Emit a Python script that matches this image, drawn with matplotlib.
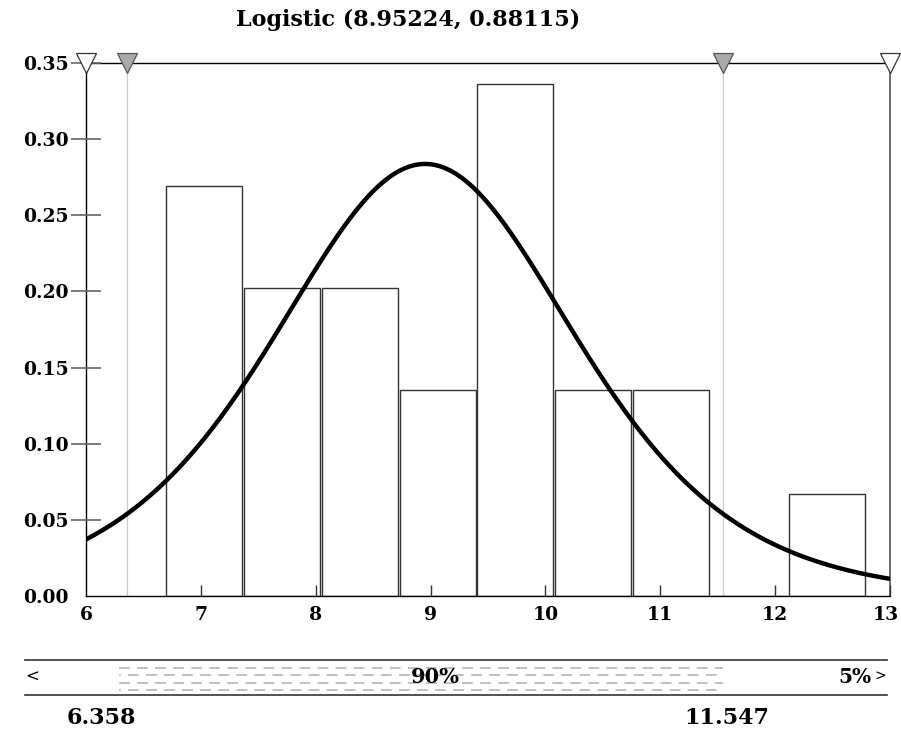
import numpy as np
import matplotlib.pyplot as plt
import matplotlib.transforms as mtransforms
from matplotlib.lines import Line2D

# fitted distribution
loc = 8.95224
scale = 0.88115
lower_pct, upper_pct = 5, 5
lower_val = 6.358
upper_val = 11.547

# histogram (density)
bin_edges = [6.688, 7.366, 8.044, 8.722, 9.400, 10.078, 10.756, 11.434, 12.112, 12.790]
densities = [0.269, 0.202, 0.202, 0.135, 0.336, 0.135, 0.135, 0.0, 0.067]

x_ticks = [6, 7, 8, 9, 10, 11, 12, 13]
y_ticks = [0.00, 0.05, 0.10, 0.15, 0.20, 0.25, 0.30, 0.35]

serif = ['DejaVu Serif']

fig = plt.figure(figsize=(9.01, 7.31), dpi=100)
ax = fig.add_axes([86 / 901, 1 - 596 / 731, 804 / 901, 533 / 731])
ax.set_axisbelow(False)

# bars
edges = np.array(bin_edges)
lefts = edges[:-1]
widths = np.diff(edges)
gap = 0.016
ax.bar(lefts + gap / 2, densities, width=widths - gap, align='edge',
       facecolor='white', edgecolor='#333333', linewidth=1.0, zorder=2)

# fitted logistic pdf
xs = np.linspace(6, 13, 400)
z = np.exp(-(xs - loc) / scale)
pdf = z / (scale * (1 + z) ** 2)
ax.plot(xs, pdf, color='black', linewidth=3.2, zorder=4)

# percentile lines and markers
for v in (lower_val, upper_val):
    ax.axvline(v, color='#cccccc', linewidth=1.0, zorder=1)
ax.plot([6, 13], [0.35, 0.35], linestyle='none', marker='v', markersize=14,
        markerfacecolor='white', markeredgecolor='#333333', markeredgewidth=0.9,
        clip_on=False, zorder=6)
ax.plot([lower_val, upper_val], [0.35, 0.35], linestyle='none', marker='v', markersize=14,
        markerfacecolor='#aaaaaa', markeredgecolor='#555555', markeredgewidth=0.9,
        clip_on=False, zorder=6)

ax.set_xlim(6, 13)
ax.set_ylim(0, 0.35)
ax.set_xticks(x_ticks)
ax.set_yticks(y_ticks)
ax.set_xticklabels([str(t) for t in x_ticks], fontfamily=serif, fontweight='bold', fontsize=13.5)
ax.set_yticklabels([f'{t:.2f}' for t in y_ticks], fontfamily=serif, fontweight='bold', fontsize=13.5)
ax.tick_params(axis='x', direction='in', length=8, width=1, color='#333333', pad=7)
ax.tick_params(axis='y', direction='inout', length=21, width=1.2, color='#666666', pad=2)
ax.xaxis.get_major_ticks()[0].tick1line.set_visible(False)
ax.yaxis.get_major_ticks()[0].tick1line.set_visible(False)
# keep the last x label inside the canvas
last = ax.get_xticklabels()[-1]
last.set_transform(last.get_transform() + mtransforms.ScaledTranslation(-4 / 100, 0, fig.dpi_scale_trans))

for side in ('left', 'top', 'bottom'):
    ax.spines[side].set_color('black')
    ax.spines[side].set_linewidth(1.0)
ax.spines['right'].set_color('#555555')
ax.spines['right'].set_linewidth(1.2)

fig.text(408 / 901, 1 - 20 / 731, f'Logistic ({loc}, {scale})', ha='center', va='center',
         fontfamily=serif, fontweight='bold', fontsize=16)

# bottom percentile band
band = fig.add_axes([86 / 901, 1 - 695 / 731, 804 / 901, 35 / 731])
band.set_xlim(6, 13)
band.set_ylim(0, 1)
band.axis('off')
for yy, off in ((0.78, 0), (0.57, 5), (0.33, 0), (0.13, 5)):
    band.plot([lower_val - 0.07, upper_val], [yy, yy], color='#bbbbbb', linewidth=1.3,
              linestyle=(off, (6, 4)), zorder=1)

fig.add_artist(Line2D([25 / 901, 887 / 901], [1 - 660 / 731] * 2, color='#333333', linewidth=1.2))
fig.add_artist(Line2D([25 / 901, 887 / 901], [1 - 695 / 731] * 2, color='#333333', linewidth=1.2))
fig.text(25 / 901, 1 - 677 / 731, '<', ha='left', va='center', fontfamily=serif, fontsize=12)
fig.text(435 / 901, 1 - 677 / 731, f'{100 - lower_pct - upper_pct}%', ha='center', va='center',
         fontfamily=serif, fontweight='bold', fontsize=15)
fig.text(872 / 901, 1 - 677 / 731, f'{upper_pct}%', ha='right', va='center',
         fontfamily=serif, fontweight='bold', fontsize=14.5)
fig.text(874 / 901, 1 - 677 / 731, '>', ha='left', va='center',
         fontfamily=serif, fontsize=10)
fig.text(101 / 901, 1 - 718 / 731, f'{lower_val:.3f}', ha='center', va='center',
         fontfamily=serif, fontweight='bold', fontsize=16)
fig.text(727 / 901, 1 - 718 / 731, f'{upper_val:.3f}', ha='center', va='center',
         fontfamily=serif, fontweight='bold', fontsize=16)

fig.savefig('out.png', dpi=100)
